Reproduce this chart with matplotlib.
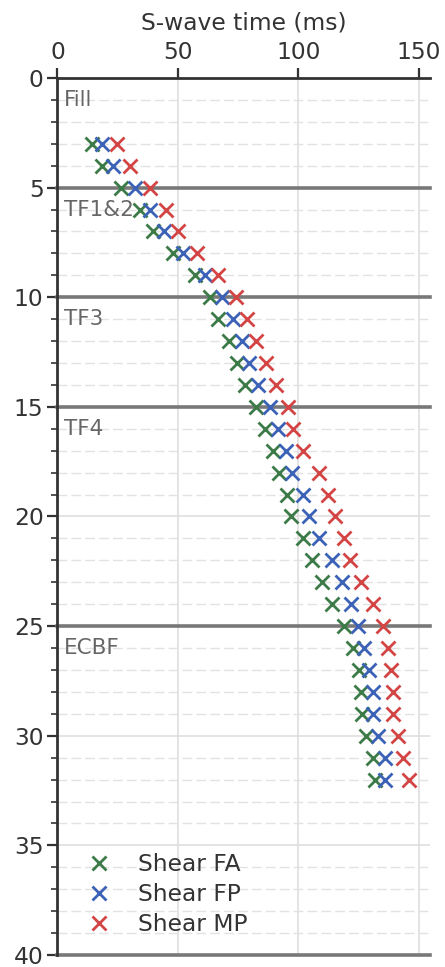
import matplotlib
matplotlib.use("Agg")
import matplotlib.pyplot as plt
from matplotlib.ticker import MultipleLocator

# Depth of each measurement (m)
depth = [3, 4, 5, 6, 7, 8, 9, 10, 11, 12, 13, 14, 15, 16, 17, 18, 19, 20,
         21, 22, 23, 24, 25, 26, 27, 28, 29, 30, 31, 32]

# S-wave arrival times (ms)
shear_fa = [14.5, 18.4, 26.4, 34.1, 39.8, 48.1, 57.1, 63.3, 66.8, 71.3,
            74.3, 77.8, 82.3, 86.2, 89.3, 92.0, 95.1, 97.1, 101.7, 105.8,
            109.6, 113.7, 118.9, 122.7, 125.2, 125.8, 126.2, 128.2, 130.9, 131.7]
shear_fp = [18.4, 23.0, 32.2, 38.3, 44.3, 52.2, 61.1, 68.1, 72.7, 76.4,
            79.6, 83.3, 88.1, 91.7, 94.8, 97.5, 101.9, 104.5, 108.6, 113.7,
            117.9, 121.8, 124.5, 127.2, 129.3, 130.9, 130.9, 133.0, 135.9, 135.9]
shear_mp = [24.6, 30.1, 38.3, 44.9, 50.1, 57.8, 66.7, 74.1, 78.5, 82.3,
            86.5, 90.6, 95.7, 97.8, 101.9, 108.6, 112.3, 115.1, 118.8, 121.3,
            125.9, 130.8, 134.9, 137.2, 138.2, 139.4, 139.4, 141.3, 143.2, 145.9]

# Layer names and their top depths (m)
layer_names = ["Fill", "TF1&2", "TF3", "TF4", "ECBF"]
layer_tops = [0, 5, 10, 15, 25]
layer_bounds = [5, 10, 15, 25, 40]

series = [("Shear FA", shear_fa, "#3c7a47"),
          ("Shear FP", shear_fp, "#3b62b6"),
          ("Shear MP", shear_mp, "#d34545")]

FS = 16.8

plt.rcParams["font.family"] = ["DejaVu Sans"]
fig = plt.figure(figsize=(4.45, 9.67), dpi=100)
ax = fig.add_axes([0.129, 0.0124, 0.837, 0.907])

for label, vals, color in series:
    ax.plot(vals, depth, linestyle="none", marker="x", markersize=10.5,
            markeredgewidth=2.0, color=color, label=label, zorder=4)

for b in layer_bounds:
    ax.axhline(b, color="#787878", linewidth=2.6, zorder=3, clip_on=False)

for name, top in zip(layer_names, layer_tops):
    ax.text(2.8, top + 1.0, name, color="#666666", fontsize=15.5,
            va="center", ha="left", zorder=5)

ax.set_xlim(0, 154.5)
ax.set_ylim(40, 0)
ax.xaxis.set_label_position("top")
ax.xaxis.tick_top()
ax.set_xlabel("S-wave time (ms)", fontsize=FS, color="#333333", labelpad=8)
ax.xaxis.set_major_locator(MultipleLocator(50))
ax.yaxis.set_major_locator(MultipleLocator(5))
ax.yaxis.set_minor_locator(MultipleLocator(1))

ax.tick_params(axis="both", which="major", labelsize=FS, labelcolor="#333333",
               color="#333333", width=1.6, length=7, direction="out", pad=3)
ax.tick_params(axis="y", which="minor", color="#333333", width=1.2, length=4,
               direction="out")

ax.grid(True, which="major", color="#dddddd", linewidth=1.1, zorder=0)
ax.grid(True, which="minor", axis="y", color="#e2e2e2", linewidth=1.0,
        linestyle=(0, (7, 3)), zorder=0)
ax.set_axisbelow(True)

for side in ("right", "bottom"):
    ax.spines[side].set_visible(False)
for side in ("left", "top"):
    ax.spines[side].set_color("#333333")
    ax.spines[side].set_linewidth(2.0)
    ax.spines[side].set_zorder(6)

leg = ax.legend(loc="lower left", bbox_to_anchor=(0.004, -0.002), frameon=False,
                fontsize=FS, handletextpad=0.9, labelspacing=0.3,
                handlelength=1.6, markerscale=1.0)
for t in leg.get_texts():
    t.set_color("#333333")

fig.savefig("out.png", dpi=100)
